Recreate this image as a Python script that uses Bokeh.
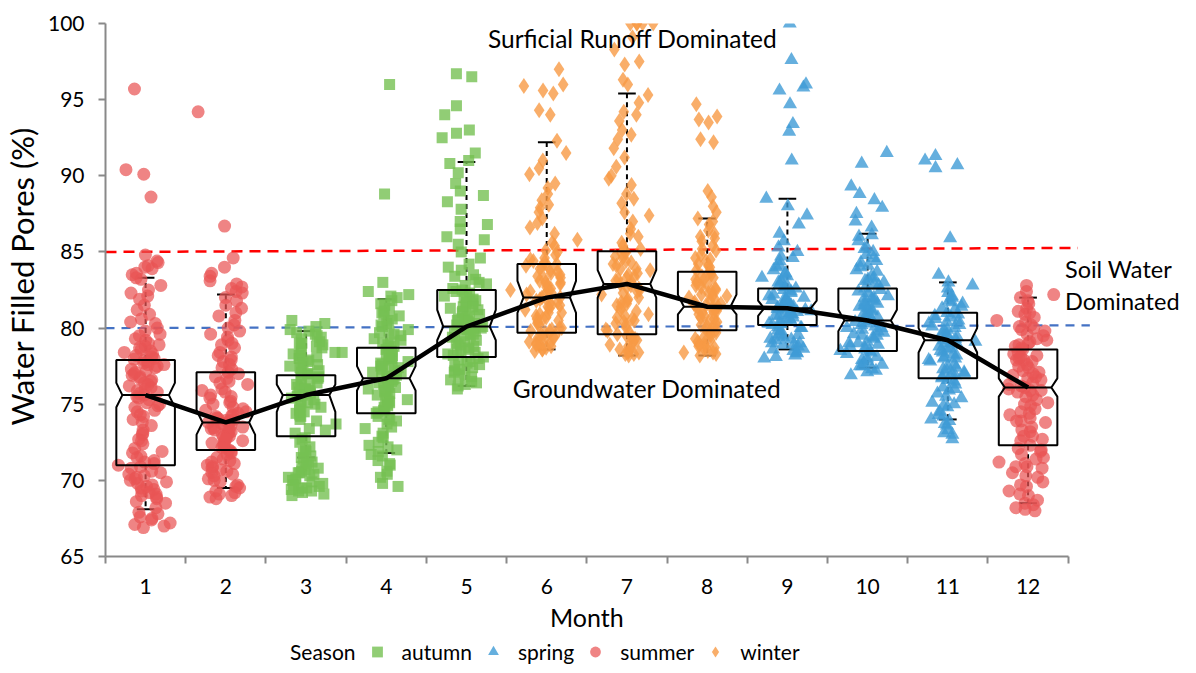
from bokeh.plotting import figure
from bokeh.layouts import column
from bokeh.models import (ColumnDataSource, Range1d, FixedTicker, Label, Legend, LegendItem,
                          LinearAxis)
from bokeh.transform import jitter
from bokeh.embed import file_html
from bokeh.resources import INLINE

months = [1, 2, 3, 4, 5, 6, 7, 8, 9, 10, 11, 12]
month_labels = ["1", "2", "3", "4", "5", "6", "7", "8", "9", "10", "11", "12"]
seasons = ["summer", "summer", "autumn", "autumn", "autumn", "winter",
           "winter", "winter", "spring", "spring", "spring", "summer"]
season_order = ["autumn", "spring", "summer", "winter"]

wfp_jan = [95.7, 90.4, 90.1, 88.6, 84.8, 84.4, 84.0, 84.1, 83.9, 83.5, 83.3, 83.2, 82.8, 82.5, 82.3,
           81.9, 81.5, 80.9, 80.4, 80.3, 80.0, 79.8, 79.5, 79.2, 79.0, 78.8, 78.6, 78.5, 78.3, 78.2,
           78.0, 77.9, 77.8, 77.7, 77.5, 77.4, 77.2, 77.0, 76.9, 76.7, 76.5, 76.3, 76.1, 76.0, 75.8,
           75.7, 75.6, 75.5, 75.3, 75.0, 74.8, 74.5, 74.2, 74.0, 73.6, 73.3, 73.0, 72.7, 72.4, 72.1,
           71.8, 71.5, 71.3, 71.1, 71.0, 70.8, 70.5, 70.3, 70.1, 70.0, 69.8, 69.6, 69.5, 69.3, 69.1,
           69.0, 68.8, 68.5, 68.2, 67.9, 67.6, 67.4, 67.2, 67.0, 66.9, 77.6, 78.1, 76.8, 70.4, 69.7,
           78.9, 78.4, 77.95, 77.3, 77.1, 76.6, 76.2, 75.9, 75.4, 75.1, 74.9, 74.6, 74.3, 73.8, 73.1,
           72.6, 71.9, 71.6, 71.2, 70.9, 70.6, 70.2, 69.9, 69.4, 69.2, 68.9, 68.6, 67.8, 67.5, 67.1,
           79.6, 78.7, 77.6, 76.4, 79.3, 82.1, 81.2, 80.6, 83.6, 84.3]
wfp_feb = [94.2, 86.7, 84.6, 84.0, 83.6, 83.1, 82.7, 82.6, 82.3, 82.0, 81.8, 81.3, 81.0, 80.5, 80.2,
           80.0, 79.8, 79.4, 79.0, 78.7, 78.4, 78.1, 77.8, 77.6, 77.3, 77.0, 76.8, 76.5, 76.3, 76.0,
           75.8, 75.6, 75.4, 75.2, 75.0, 74.8, 74.6, 74.4, 74.3, 74.1, 74.0, 73.9, 73.8, 73.7, 73.6,
           73.5, 73.4, 73.3, 73.2, 73.0, 72.9, 72.8, 72.6, 72.5, 72.3, 72.2, 72.0, 71.9, 71.7, 71.5,
           71.3, 71.1, 70.9, 70.7, 70.5, 70.3, 70.1, 69.9, 69.7, 69.5, 69.3, 69.2, 69.0, 68.9, 68.8,
           70.6, 71.2, 72.4, 73.1, 74.2, 81.5, 80.8, 79.6, 79.2, 78.9, 78.2, 77.9, 77.4, 77.1, 76.7,
           76.4, 75.9, 75.5, 75.1, 74.7, 74.5, 74.25, 74.05, 73.95, 73.85, 73.75, 73.65, 73.45, 73.25,
           73.05, 72.85, 72.7, 72.45, 72.15, 71.8, 71.4, 70.8, 70.4, 70.0, 69.6, 69.1, 83.4, 82.9,
           82.4, 71.0]
wfp_mar = [80.5, 80.3, 80.1, 79.9, 79.7, 79.5, 79.3, 79.1, 79.0, 78.8, 78.6, 78.5, 78.3, 78.1, 78.0,
           77.8, 77.6, 77.5, 77.3, 77.1, 77.0, 76.8, 76.6, 76.5, 76.3, 76.1, 76.0, 75.8, 75.7, 75.5,
           75.4, 75.2, 75.0, 74.8, 74.6, 74.4, 74.2, 74.0, 73.7, 73.4, 73.1, 72.8, 72.5, 72.2, 72.0,
           71.8, 71.6, 71.4, 71.2, 71.0, 70.9, 70.7, 70.5, 70.4, 70.2, 70.0, 69.9, 69.8, 69.6, 69.5,
           69.4, 69.3, 69.2, 69.1, 75.9, 76.2, 75.3, 77.2, 78.2, 74.9, 70.6, 70.1, 79.8, 79.4, 79.0,
           78.7, 78.4, 78.0, 77.7, 77.4, 77.0, 76.7, 76.4, 76.0, 75.6, 75.1, 74.7, 74.3, 73.9, 73.3,
           72.7, 71.9, 71.5, 71.1, 70.8, 70.5, 70.3, 70.0, 69.7, 69.5, 69.3, 69.0, 79.6, 78.9, 77.9,
           76.9, 75.8, 74.5]
wfp_apr = [96.0, 88.8, 83.0, 82.4, 82.2, 82.0, 81.8, 81.6, 81.3, 81.0, 80.8, 80.5, 80.3, 80.1, 79.9,
           79.7, 79.5, 79.3, 79.1, 78.9, 78.7, 78.6, 78.4, 78.2, 78.0, 77.9, 77.7, 77.5, 77.4, 77.2,
           77.0, 76.9, 76.8, 76.7, 76.6, 76.4, 76.2, 76.0, 75.8, 75.6, 75.4, 75.2, 75.0, 74.8, 74.6,
           74.4, 74.2, 74.0, 73.7, 73.4, 73.1, 72.8, 72.5, 72.2, 71.9, 71.6, 71.3, 71.0, 70.6, 70.2,
           69.8, 69.6, 75.3, 76.3, 77.1, 78.1, 79.0, 74.7, 73.9, 72.0, 82.1, 81.5, 80.9, 80.2, 79.8,
           79.2, 78.8, 78.5, 78.3, 77.8, 77.6, 77.3, 77.1, 76.85, 76.5, 76.1, 75.7, 75.5, 75.1, 74.9,
           74.5, 74.1, 73.5, 72.9, 72.3, 71.7, 71.1, 70.4, 79.6, 78.0, 76.3, 75.9, 77.45, 76.65, 80.6,
           81.1]
wfp_may = [96.7, 96.5, 94.6, 94.0, 93.0, 92.8, 92.5, 91.5, 90.8, 90.2, 89.5, 89.0, 88.3, 87.8, 87.0,
           86.5, 86.0, 85.5, 85.0, 84.6, 84.2, 83.8, 83.5, 83.2, 83.0, 82.8, 82.6, 82.4, 82.2, 82.0,
           81.8, 81.6, 81.4, 81.2, 81.0, 80.8, 80.6, 80.4, 80.2, 80.1, 80.0, 79.8, 79.6, 79.4, 79.2,
           79.0, 78.8, 78.6, 78.4, 78.2, 78.0, 77.8, 77.6, 77.4, 77.2, 77.0, 76.8, 76.6, 76.4, 76.2,
           76.0, 79.5, 80.5, 81.5, 82.5, 78.5, 77.9, 79.9, 80.3, 81.1, 84.0, 83.4, 82.9, 82.3, 81.9,
           81.7, 81.3, 80.9, 80.7, 80.45, 80.15, 79.95, 79.7, 79.3, 79.1, 78.9, 78.7, 78.3, 78.1, 77.7,
           77.5, 77.1, 76.9, 76.5, 76.3, 80.0, 80.6, 81.4, 82.1, 79.6, 78.6, 77.3, 85.8, 86.8, 88.7,
           91.0]
wfp_jun = [97.0, 96.0, 95.9, 95.6, 95.4, 94.3, 94.0, 92.3, 91.5, 91.0, 90.1, 89.5, 89.2, 88.8, 88.4,
           87.6, 87.2, 86.6, 86.2, 85.8, 85.4, 85.1, 84.8, 84.6, 84.4, 84.2, 84.0, 83.8, 83.6, 83.4,
           83.2, 83.0, 82.8, 82.6, 82.4, 82.2, 82.0, 81.8, 81.6, 81.4, 81.2, 81.0, 80.8, 80.6, 80.4,
           80.2, 80.0, 79.8, 79.6, 79.4, 79.2, 79.0, 78.8, 78.6, 78.5, 84.3, 83.3, 82.5, 81.5, 80.5,
           79.7, 79.1, 83.9, 82.9, 81.9, 80.9, 79.9, 78.9, 85.0, 84.1, 84.5, 84.2, 83.7, 83.5, 83.1,
           82.7, 82.3, 82.1, 81.7, 81.3, 80.7, 80.3, 80.0, 79.5, 79.3, 79.0, 78.7, 78.6, 83.0, 82.5,
           82.0, 81.5, 81.0, 80.6, 79.8, 79.4, 78.9, 85.6, 86.9, 87.9, 90.5, 88.1]
wfp_jul = [100.0, 100.0, 100.0, 100.0, 99.1, 98.3, 97.5, 97.3, 96.3, 96.0, 95.3, 94.8, 94.2, 93.6, 93.0,
           92.4, 91.8, 91.2, 90.6, 90.0, 89.4, 88.8, 88.2, 87.6, 87.0, 86.5, 86.0, 85.6, 85.2, 85.0,
           84.7, 84.4, 84.1, 83.8, 83.5, 83.2, 83.0, 82.8, 82.5, 82.2, 82.0, 81.7, 81.4, 81.1, 80.8,
           80.5, 80.2, 80.0, 79.7, 79.4, 79.1, 78.9, 78.6, 78.4, 78.2, 84.9, 83.9, 82.9, 81.9, 80.9,
           79.9, 78.8, 84.2, 83.3, 82.4, 81.5, 80.6, 79.6, 78.3, 85.4, 85.0, 84.6, 84.3, 83.9, 83.6,
           83.1, 82.7, 82.3, 81.8, 81.2, 80.7, 80.3, 79.8, 79.5, 79.2, 78.7, 78.5, 78.4, 78.3, 83.4,
           82.6, 81.6, 80.4, 79.3, 86.2, 87.4, 88.5, 89.8, 92.7, 94.0, 100.0]
wfp_aug = [94.7, 93.9, 93.7, 93.5, 92.4, 92.2, 89.0, 88.6, 88.0, 87.6, 87.2, 86.8, 86.4, 86.0, 85.7,
           85.4, 85.1, 84.8, 84.5, 84.2, 84.0, 83.8, 83.6, 83.4, 83.2, 83.0, 82.8, 82.6, 82.4, 82.2,
           82.0, 81.8, 81.6, 81.5, 81.4, 81.3, 81.2, 81.0, 80.8, 80.6, 80.4, 80.2, 80.0, 79.8, 79.6,
           79.4, 79.2, 79.0, 78.8, 78.6, 78.4, 78.2, 83.1, 82.1, 81.1, 80.1, 79.1, 78.3, 82.9, 81.9,
           80.9, 79.9, 78.9, 84.4, 85.9, 84.6, 84.1, 83.7, 83.3, 82.7, 82.3, 81.7, 81.45, 81.25, 81.05,
           80.7, 80.3, 79.9, 79.5, 79.3, 78.7, 78.5, 78.4, 82.5, 81.6, 80.5, 79.7, 78.8, 85.2, 86.2,
           87.0, 83.5, 82.1]
wfp_sep = [100.0, 97.6, 96.0, 95.8, 95.6, 94.7, 93.4, 92.9, 91.0, 88.5, 88.0, 87.4, 86.8, 86.2, 85.7,
           85.3, 85.0, 84.7, 84.4, 84.1, 83.8, 83.5, 83.3, 83.1, 82.9, 82.7, 82.5, 82.3, 82.1, 81.9,
           81.7, 81.5, 81.4, 81.3, 81.2, 81.1, 81.0, 80.9, 80.8, 80.6, 80.4, 80.2, 80.0, 79.8, 79.6,
           79.4, 79.2, 79.0, 78.8, 78.6, 78.4, 78.2, 78.0, 82.0, 81.6, 80.7, 80.3, 79.5, 78.9, 82.6,
           81.8, 80.5, 79.3, 83.6, 84.6, 83.0, 82.8, 82.4, 82.2, 81.85, 81.65, 81.45, 81.35, 81.25,
           81.15, 81.05, 80.95, 80.85, 80.55, 80.25, 80.05, 79.85, 79.55, 79.25, 78.95, 78.65, 78.35,
           78.1, 84.0, 83.4, 82.0, 81.0, 80.0, 79.0, 78.5]
wfp_oct = [91.5, 90.8, 89.3, 88.8, 88.4, 87.9, 87.5, 87.0, 86.6, 86.1, 85.7, 85.3, 85.0, 84.6, 84.3,
           84.0, 83.7, 83.4, 83.1, 82.8, 82.5, 82.3, 82.1, 81.9, 81.7, 81.5, 81.3, 81.1, 80.9, 80.7,
           80.5, 80.3, 80.1, 79.9, 79.7, 79.5, 79.3, 79.1, 78.9, 78.7, 78.5, 78.3, 78.1, 77.9, 77.7,
           77.5, 77.3, 77.1, 76.9, 81.0, 80.0, 79.0, 82.0, 80.6, 79.6, 78.6, 83.2, 81.6, 80.2, 77.8,
           84.8, 82.9, 86.0, 85.2, 84.4, 83.8, 83.3, 82.6, 82.4, 82.0, 81.8, 81.4, 81.2, 80.8, 80.6,
           80.4, 80.0, 79.8, 79.4, 79.0, 78.8, 78.4, 78.0, 77.6, 77.2, 81.5, 80.5, 79.5, 78.5, 83.0,
           84.1, 77.5]
wfp_nov = [91.3, 91.0, 90.7, 90.5, 85.9, 83.5, 83.0, 82.6, 82.3, 82.0, 81.8, 81.6, 81.4, 81.2, 81.0,
           80.8, 80.6, 80.4, 80.2, 80.0, 79.8, 79.6, 79.4, 79.2, 79.0, 78.8, 78.6, 78.4, 78.2, 78.0,
           77.8, 77.6, 77.4, 77.2, 77.0, 76.8, 76.6, 76.3, 76.0, 75.7, 75.4, 75.1, 74.8, 74.5, 74.2,
           73.9, 73.6, 73.3, 73.0, 72.7, 80.1, 79.1, 78.1, 77.1, 79.5, 78.5, 80.9, 76.9, 75.9, 74.0,
           82.8, 82.1, 81.7, 81.3, 80.7, 80.3, 79.9, 79.7, 79.3, 78.9, 78.7, 78.3, 77.9, 77.5, 77.3,
           76.7, 76.1, 75.5, 74.9, 74.3, 73.7, 73.1, 80.5, 79.0, 78.0, 77.0, 76.5, 75.0]
wfp_dec = [82.8, 82.4, 82.0, 81.6, 81.3, 81.0, 80.7, 80.4, 80.2, 80.0, 79.8, 79.5, 79.2, 79.0, 78.8,
           78.6, 78.4, 78.2, 78.0, 77.8, 77.6, 77.4, 77.2, 77.0, 76.8, 76.6, 76.4, 76.2, 76.0, 75.8,
           75.6, 75.3, 75.0, 74.7, 74.4, 74.1, 73.8, 73.5, 73.2, 72.9, 72.6, 72.3, 72.0, 71.7, 71.4,
           71.1, 70.8, 70.5, 70.2, 69.9, 69.6, 69.3, 69.0, 68.7, 68.4, 68.1, 68.0, 77.9, 76.9, 75.9,
           74.9, 73.9, 79.9, 78.9, 72.9, 71.9, 70.9, 80.9, 82.2, 81.8, 81.1, 80.5, 80.1, 79.6, 79.1,
           78.7, 78.3, 77.9, 77.5, 77.1, 76.7, 76.3, 75.9, 75.5, 75.1, 74.5, 73.9, 73.3, 72.7, 72.1,
           71.5, 70.9, 70.3, 69.7, 69.1, 68.5, 68.2, 79.3, 78.1, 76.1, 74.3, 71.2]

box_q1 = [71.0, 72.0, 72.9, 74.4, 78.1, 79.7, 79.6, 79.85, 80.2, 78.5, 76.7, 72.3]
box_median = [75.6, 73.8, 75.6, 76.7, 80.1, 82.0, 82.9, 81.4, 81.3, 80.5, 79.2, 76.1]
box_q3 = [77.9, 77.1, 76.9, 78.7, 82.5, 84.2, 85.05, 83.7, 82.6, 82.6, 81.0, 78.6]
notch_lo = [74.8, 73.0, 74.5, 75.9, 79.2, 81.0, 82.0, 80.9, 80.8, 79.8, 78.4, 75.5]
notch_hi = [76.4, 74.6, 76.3, 77.5, 81.2, 83.1, 83.8, 82.2, 81.8, 81.2, 80.0, 76.7]
whisker_lo = [68.1, 69.5, 71.5, 71.8, 76.2, 78.6, 78.2, 78.2, 78.6, 77.4, 74.0, 68.5]
whisker_hi = [83.3, 82.2, 79.8, 81.9, 90.9, 92.2, 95.4, 87.2, 88.5, 86.2, 83.0, 82.0]

runoff_x = [0.5, 12.62]
runoff_y = [85.0, 85.26]
groundwater_x = [0.5, 12.77]
groundwater_y = [80.0, 80.18]

x_title = "Month"
y_title = "Water Filled Pores (%)"
legend_title = "Season"

month_values = [wfp_jan, wfp_feb, wfp_mar, wfp_apr, wfp_may, wfp_jun,
                wfp_jul, wfp_aug, wfp_sep, wfp_oct, wfp_nov, wfp_dec]

FONT = "Lato"
AXIS_GREY = "#898989"
style = {
    "autumn": ("square", "#76C152", 11, 0.8),
    "spring": ("triangle", "#3F9BD6", 14, 0.8),
    "summer": ("circle", "#E95555", 13, 0.72),
    "winter": ("diamond", "#F89A45", 16, 0.8),
}

p = figure(width=1180, height=638, x_range=Range1d(0.5, 13.9), y_range=Range1d(65, 100),
           output_backend="svg", toolbar_location=None,
           min_border_left=97, min_border_top=23, min_border_right=0, min_border_bottom=82)
p.grid.visible = False
p.outline_line_color = None
p.background_fill_color = "white"

# x axis: labels at month centres, tick marks between months
xa = p.xaxis[0]
xa.bounds = (0.5, 12.5)
xa.ticker = FixedTicker(ticks=months, minor_ticks=[m - 0.5 for m in months] + [12.5])
xa.major_label_overrides = {m: t for m, t in zip(months, month_labels)}
xa.major_tick_line_color = None
xa.major_tick_out = 7
xa.major_tick_in = 0
xa.minor_tick_line_color = AXIS_GREY
xa.minor_tick_line_width = 2
xa.minor_tick_out = 7
xa.minor_tick_in = 0
xa.axis_line_color = AXIS_GREY
xa.axis_line_width = 2
xa.major_label_standoff = 15

ya = p.yaxis[0]
ya.ticker = FixedTicker(ticks=[65, 70, 75, 80, 85, 90, 95, 100], minor_ticks=[])
ya.major_tick_line_color = AXIS_GREY
ya.major_tick_line_width = 2
ya.major_tick_out = 7
ya.major_tick_in = 0
ya.minor_tick_line_color = None
ya.axis_line_color = AXIS_GREY
ya.axis_line_width = 2
ya.major_label_standoff = 14

for ax in (xa, ya):
    ax.major_label_text_font = FONT
    ax.major_label_text_font_size = "21px"
    ax.major_label_text_color = "black"

# axis titles drawn as single-label axes so they sit where the reference puts them
x_title_axis = LinearAxis(ticker=FixedTicker(ticks=[6.5], minor_ticks=[]),
                          major_label_overrides={6.5: x_title})
y_title_axis = LinearAxis(ticker=FixedTicker(ticks=[83.4], minor_ticks=[]),
                          major_label_overrides={83.4: y_title}, major_label_orientation="vertical")
for ax, so, fs in ((x_title_axis, 5, "25px"), (y_title_axis, 3, "31px")):
    ax.axis_line_color = None
    ax.major_tick_line_color = None
    ax.minor_tick_line_color = None
    ax.major_tick_out = 0
    ax.major_tick_in = 0
    ax.major_label_standoff = so
    ax.major_label_text_font = FONT
    ax.major_label_text_font_size = fs
    ax.major_label_text_color = "black"
p.add_layout(x_title_axis, "below")
p.add_layout(y_title_axis, "left")

# thresholds
p.line(runoff_x, runoff_y, line_color="#FF0000", line_width=2.5, line_dash="11 7")
p.line(groundwater_x, groundwater_y, line_color="#4472C4", line_width=2.2, line_dash="9 7")

# whiskers
hw, nw, cw = 0.365, 0.29, 0.11
p.segment(x0=months, y0=box_q3, x1=months, y1=whisker_hi, line_color="black", line_width=2, line_dash="5 4")
p.segment(x0=months, y0=box_q1, x1=months, y1=whisker_lo, line_color="black", line_width=2, line_dash="5 4")
p.segment(x0=[m - cw for m in months], y0=whisker_hi, x1=[m + cw for m in months], y1=whisker_hi,
          line_color="black", line_width=2)
p.segment(x0=[m - cw for m in months], y0=whisker_lo, x1=[m + cw for m in months], y1=whisker_lo,
          line_color="black", line_width=2)

# points
for s in season_order:
    xs, ys = [], []
    for m, vals, ss in zip(months, month_values, seasons):
        if ss == s:
            xs += [m] * len(vals)
            ys += vals
    src = ColumnDataSource(dict(x=xs, y=ys))
    marker, color, size, alpha = style[s]
    p.scatter(x=jitter("x", width=0.12, distribution="normal"), y="y", source=src,
              marker=marker, size=size, fill_color=color, fill_alpha=alpha, line_color=None)

# notched boxes
box_xs, box_ys = [], []
for m, q1, lo, md, hi, q3 in zip(months, box_q1, notch_lo, box_median, notch_hi, box_q3):
    box_xs.append([m - hw, m - hw, m - nw, m - hw, m - hw, m + hw, m + hw, m + nw, m + hw, m + hw])
    box_ys.append([q1, lo, md, hi, q3, q3, hi, md, lo, q1])
p.patches(xs=box_xs, ys=box_ys, fill_color=None, line_color="black", line_width=2)
p.segment(x0=[m - nw for m in months], y0=box_median, x1=[m + nw for m in months], y1=box_median,
          line_color="black", line_width=2)

# median line
p.line(months, box_median, line_color="black", line_width=4.5)

# annotations
for txt, x, y, align, fs in [("Surficial Runoff Dominated", 7.07, 99.0, "center", "24.5px"),
                             ("Groundwater Dominated", 7.25, 76.03, "center", "24.5px"),
                             ("Soil Water", 12.46, 83.9, "left", "23.5px"),
                             ("Dominated", 12.46, 81.8, "left", "23.5px")]:
    p.add_layout(Label(x=x, y=y, text=txt, text_font=FONT, text_font_size=fs,
                       text_align=align, text_baseline="middle", text_color="black"))

# legend strip underneath the chart; its key glyphs copy the point styles
lg = figure(width=1180, height=27, x_range=Range1d(0, 1), y_range=Range1d(0, 1),
            output_backend="svg", toolbar_location=None, x_axis_type=None, y_axis_type=None,
            min_border=0, min_border_left=0, min_border_right=0, min_border_top=0,
            min_border_bottom=0)
lg.grid.visible = False
lg.outline_line_color = None
key_src = ColumnDataSource(dict(x=[5], y=[5]))  # key renderers sit outside the strip's range
blank = lg.scatter(x="x", y="y", source=key_src, size=0, fill_alpha=0, line_alpha=0)
items = [LegendItem(label=legend_title, renderers=[blank])]
for s in season_order:
    marker, color, size, alpha = style[s]
    r = lg.scatter(x="x", y="y", source=key_src, marker=marker, size=size, fill_color=color,
                   fill_alpha=alpha, line_color=None)
    items.append(LegendItem(label=s, renderers=[r]))
legend = Legend(items=items, orientation="horizontal", location=(145, 0),
                glyph_width=30, glyph_height=27, label_standoff=10, spacing=6, padding=0, margin=0,
                border_line_color=None, background_fill_alpha=0,
                label_text_font=FONT, label_text_font_size="21px", label_text_color="black")
lg.add_layout(legend, "center")

layout = column(p, lg, spacing=0)
open("out.html", "w").write(file_html(layout, INLINE))
